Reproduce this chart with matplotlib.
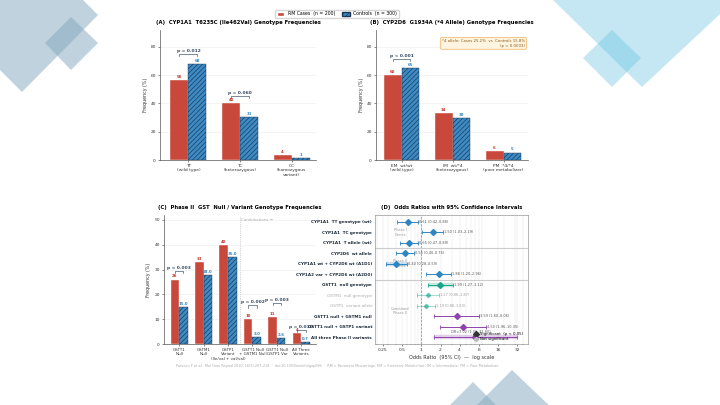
import numpy as np
import matplotlib
matplotlib.use("Agg")
import matplotlib.pyplot as plt
from matplotlib.patches import Polygon, Patch
from matplotlib.lines import Line2D
from matplotlib.ticker import FixedLocator, NullFormatter

# ---Data---
cyp1a1_genotypes = ["TT\n(wild type)", "TC\n(heterozygous)", "CC\n(homozygous\nvariant)"]
cyp1a1_cases = [56.5, 40.0, 3.5]
cyp1a1_controls = [68.0, 30.7, 1.3]
cyp1a1_pvals = ["p = 0.012", "p = 0.060", None]

cyp2d6_genotypes = ["EM  wt/wt\n(wild type)", "IM  wt/*4\n(heterozygous)", "PM  *4/*4\n(poor metabolizer)"]
cyp2d6_cases = [60.0, 33.5, 6.5]
cyp2d6_controls = [65.0, 29.7, 5.3]
cyp2d6_pvals = ["p < 0.001", None, None]

gst_groups = ["GSTT1\nNull", "GSTM1\nNull", "GSTP1\nVariant\n(Ile/val + val/val)",
              "GSTT1 Null\n+ GSTM1 Null", "GSTT1 Null\nGSTP1 Var", "All Three\nVariants"]
gst_cases = [26.0, 33.0, 40.0, 10.0, 11.0, 4.5]
gst_controls = [15.0, 28.0, 35.0, 3.0, 2.6, 0.7]
gst_pvals = ["p = 0.003", None, None, "p = 0.002", "p = 0.003", "p = 0.010"]

or_labels = ["CYP1A1  TT genotype (wt)", "CYP1A1  TC genotype", "CYP1A1  T allele (wt)",
             "CYP2D6  wt allele", "CYP1A1 wt + CYP2D6 wt (A1D1)", "CYP1A2 var + CYP2D6 wt (A2D0)",
             "GSTT1  null genotype", "GSTM1  null genotype", "GSTP1  variant allele",
             "GSTT1 null + GSTM1 null", "GSTT1 null + GSTP1 variant", "All three Phase II variants"]
or_values = [0.61, 1.50, 0.65, 0.55, 0.40, 1.88, 1.99, 1.27, 1.19, 3.59, 4.50, 7.02]
or_low = [0.42, 1.03, 0.47, 0.40, 0.28, 1.20, 1.27, 0.86, 0.86, 1.60, 1.96, 1.56]
or_high = [0.88, 2.19, 0.89, 0.76, 0.59, 2.96, 3.12, 1.87, 1.63, 8.06, 10.35, 31.60]
or_significant = [True, True, True, True, True, True, True, False, False, True, True, True]
or_family = ["phase1"] * 6 + ["gst"] * 3 + ["combo"] * 3
or_highlight = [False, False, False, False, True, False, True, False, False, False, False, True]
or_group_names = ["Phase I\nGenes", "Phase II\nGenes", "Combined\nPhase II"]

# ---Style---
CASE = "#c8483b"
CTRL = "#3d8bc4"
CTRL_EDGE = "#1b3553"
FAMILY_COLORS = {"phase1": "#2e86c1", "gst": "#1aa58a", "combo": "#8e44ad"}
plt.rcParams["hatch.linewidth"] = 0.45
plt.rcParams["font.family"] = "DejaVu Sans"

W, H = 720, 405


def px(x, y):
    return (x / W, 1 - y / H)


def axes_box(left, top, right, bottom):
    return [left / W, 1 - bottom / H, (right - left) / W, (bottom - top) / H]


def bracket(ax, x1, x2, y, text, dy):
    ax.plot([x1, x1, x2, x2], [y - dy, y, y, y - dy], color="#34495e", lw=0.45, zorder=4)
    ax.text((x1 + x2) / 2, y + dy * 0.4, text, ha="center", va="bottom",
            fontsize=3.2, fontweight="bold", color="#34495e", zorder=4)


def bar_panel(ax, cats, cases, ctrls, pvals, p_y, title, ymax, case_fmt, ctrl_fmt, xlim, catsize=3.2):
    x = np.arange(len(cats))
    w = 0.35
    ax.bar(x - w / 2, cases, w, color=CASE, edgecolor="white", lw=0.3, zorder=3)
    ax.bar(x + w / 2, ctrls, w, color=CTRL, edgecolor=CTRL_EDGE, hatch="///////", lw=0.3, zorder=3)
    for xi, c, k in zip(x, cases, ctrls):
        ax.text(xi - w / 2, c + ymax * 0.008, format(c, case_fmt), ha="center", va="bottom",
                fontsize=2.8, fontweight="bold", color="#c0392b")
        ax.text(xi + w / 2, k + ymax * 0.008, format(k, ctrl_fmt), ha="center", va="bottom",
                fontsize=2.8, fontweight="bold", color="#2e86c1")
    for xi, p, py in zip(x, pvals, p_y):
        if p:
            bracket(ax, xi - w / 2, xi + w / 2, py, p, ymax * 0.018)
    ax.set_xticks(x)
    ax.set_xticklabels(cats, fontsize=catsize, color="#333333", linespacing=1.1)
    ax.set_ylim(0, ymax)
    ax.set_xlim(*xlim)
    ax.set_ylabel("Frequency (%)", fontsize=3.4, color="#333333", labelpad=2)
    ax.set_title(title, fontsize=3.8, fontweight="bold", loc="center", pad=4)
    ax.tick_params(axis="y", labelsize=3.2, length=1.5, width=0.4, pad=1.5, colors="#333333")
    ax.tick_params(axis="x", length=1.5, width=0.4, pad=1.5, colors="#333333")
    for s in ["top", "right"]:
        ax.spines[s].set_visible(False)
    for s in ["left", "bottom"]:
        ax.spines[s].set_linewidth(0.5)
        ax.spines[s].set_color("#555555")
    ax.yaxis.grid(True, color="#ececec", lw=0.4, zorder=0)
    ax.set_axisbelow(True)


fig = plt.figure(figsize=(7.2, 4.05), dpi=100)
fig.patch.set_facecolor("white")

# ---Decorative background shapes---
deco = [
    ([(0, 0), (83, 0), (98, 15), (22, 92), (0, 70)], "#86a9bf", 0.52),
    ([(71, 17), (98, 43), (71, 70), (45, 43)], "#86a9bf", 0.52),
    ([(553, 0), (735, 0), (642, 87)], "#6cc3e3", 0.4),
    ([(612, 30), (641, 58), (612, 87), (583, 58)], "#6cc3e3", 0.4),
    ([(512, 370), (470, 412), (556, 412)], "#86a9bf", 0.52),
    ([(473, 382), (443, 412), (503, 412)], "#86a9bf", 0.52),
]
for pts, col, a in deco:
    fig.patches.append(Polygon([px(*p) for p in pts], closed=True, transform=fig.transFigure,
                               facecolor=col, edgecolor="none", alpha=a, zorder=0))

# ---Panel A---
axA = fig.add_axes(axes_box(160, 30, 316, 160))
bar_panel(axA, cyp1a1_genotypes, cyp1a1_cases, cyp1a1_controls, cyp1a1_pvals, [75, 45.5, 0],
          "(A)  CYP1A1  T6235C (Ile462Val) Genotype Frequencies", 92, ".0f", ".0f", (-0.55, 2.47))
axA.set_yticks([0, 20, 40, 60, 80])

# ---Panel B---
axB = fig.add_axes(axes_box(376, 30, 528, 160))
bar_panel(axB, cyp2d6_genotypes, cyp2d6_cases, cyp2d6_controls, cyp2d6_pvals, [71.5, 0, 0],
          "(B)  CYP2D6  G1934A (*4 Allele) Genotype Frequencies", 92, ".0f", ".0f", (-0.5, 2.48))
axB.set_yticks([0, 20, 40, 60, 80])
axB.text(0.98, 0.93, "*4 allele: Cases 25.2%  vs  Controls 15.8%\n(p = 0.0003)", transform=axB.transAxes,
         ha="right", va="top", fontsize=2.8, color="#8a5a1a", multialignment="right",
         bbox=dict(boxstyle="round,pad=0.4", facecolor="#fff4e0", edgecolor="#f0b060", lw=0.5))

# ---Panel C---
axC = fig.add_axes(axes_box(164, 215, 316, 344))
bar_panel(axC, gst_groups, gst_cases, gst_controls, gst_pvals, [29.5, 0, 0, 15.6, 16.7, 5.8],
          "(C)  Phase II  GST  Null / Variant Genotype Frequencies", 52, ".0f", ".1f", (-0.62, 5.6),
          catsize=2.9)
axC.set_yticks([0, 10, 20, 30, 40, 50])
axC.axvline(2.5, color="#aaaaaa", lw=0.5, ls=":", zorder=1)
axC.text(2.55, 50, "Combinations →", fontsize=2.8, color="#aaaaaa", ha="left", va="center")

# ---Panel D---
axD = fig.add_axes(axes_box(375, 215, 528, 344))
rows = np.arange(len(or_labels))
for i in rows:
    col = FAMILY_COLORS[or_family[i]]
    sig = or_significant[i]
    a = 1.0 if sig else 0.55
    if or_highlight[i]:
        axD.plot([or_low[i], or_high[i]], [i, i], color=col, lw=3.2, alpha=0.25,
                 solid_capstyle="butt", zorder=2)
    axD.errorbar(or_values[i], i, xerr=[[or_values[i] - or_low[i]], [or_high[i] - or_values[i]]],
                 fmt="D", color=col, ms=3.0 if sig else 2.2, mec=col, elinewidth=0.7 if sig else 0.5,
                 capsize=1.4, capthick=0.6, alpha=a, zorder=3)
    txt = f"{or_values[i]:.2f} ({or_low[i]:.2f}–{or_high[i]:.2f})"
    if i == len(rows) - 1:
        axD.text(5.9, i - 0.5, "OR=" + txt, fontsize=2.5, color="#555555", ha="center", va="center")
    else:
        axD.text(or_high[i] * 1.04, i, txt, fontsize=2.5, color="#555555" if sig else "#999999",
                 ha="left", va="center")

axD.axvline(1, color="#888888", lw=0.5, ls="--", zorder=1)
for yb in [2.5, 5.5]:
    axD.axhline(yb, color="#cccccc", lw=0.8, zorder=1)
for gname, gy in zip(or_group_names, [1, 4, 8.5]):
    axD.text(0.47, gy, gname, fontsize=2.6, color="#999999", ha="center", va="center")

axD.set_xscale("log", base=2)
axD.set_xlim(0.187, 47.4)
axD.set_ylim(len(rows) - 0.35, -0.65)
axD.set_xticks([0.25, 0.5, 1, 2, 4, 8, 16, 32])
axD.set_xticklabels(["0.25", "0.5", "1", "2", "4", "8", "16", "32"])
minor = [v * m for v in [0.1, 1, 10] for m in range(2, 10)]
axD.xaxis.set_minor_locator(FixedLocator(minor))
axD.xaxis.set_minor_formatter(NullFormatter())
axD.grid(axis="x", which="both", color="#e6e6e6", lw=0.35, zorder=0)
axD.set_axisbelow(True)
axD.set_yticks(rows)
axD.set_yticklabels(or_labels)
for lab, sig in zip(axD.get_yticklabels(), or_significant):
    lab.set_fontweight("bold" if sig else "normal")
    lab.set_color("#1c2b3a" if sig else "#aaaaaa")
axD.tick_params(axis="y", labelsize=3.0, length=0, pad=2)
axD.tick_params(axis="x", which="major", labelsize=3.2, length=1.5, width=0.4, pad=1.5, colors="#333333")
axD.tick_params(axis="x", which="minor", length=0.8, width=0.3)
for s in axD.spines.values():
    s.set_linewidth(0.5)
    s.set_color("#999999")
axD.set_xlabel("Odds Ratio  (95% CI)  —  log scale", fontsize=3.6, color="#333333", labelpad=2)
axD.set_title("(D)  Odds Ratios with 95% Confidence Intervals", fontsize=3.8, fontweight="bold", pad=4)
leg_handles = [
    Line2D([], [], marker="D", ls="none", color="#333333", ms=3, label="Significant  (p < 0.05)"),
    Line2D([], [], marker="D", ls="none", color="#bbbbbb", ms=2.2, label="Not significant"),
]
axD.legend(handles=leg_handles, loc="lower left", bbox_to_anchor=(0.63, 0.0), fontsize=2.8,
           frameon=False, handlelength=1.0, handletextpad=0.5, labelspacing=0.3, borderpad=0.2)

# ---Figure legend and footnote---
fig.legend(handles=[Patch(facecolor=CASE, edgecolor="white", label="RM Cases  (n = 200)"),
                    Patch(facecolor=CTRL, edgecolor=CTRL_EDGE, hatch="///////", label="Controls  (n = 300)")],
           loc="center", bbox_to_anchor=px(337, 14), ncol=2, fontsize=3.3, frameon=True,
           edgecolor="#cccccc", fancybox=True, handlelength=1.6, handleheight=0.9,
           columnspacing=1.5, borderpad=0.4)
fig.text(*px(337, 366), "Parveen F et al.  Mol Hum Reprod 2010; 16(3):207–214  ·  doi:10.1093/molehr/gap096  ·  "
         "RM = Recurrent Miscarriage; EM = Extensive Metabolizer; IM = Intermediate; PM = Poor Metabolizer",
         ha="center", va="center", fontsize=2.4, color="#aaaaaa")

fig.savefig("out.png", dpi=100, facecolor="white")
